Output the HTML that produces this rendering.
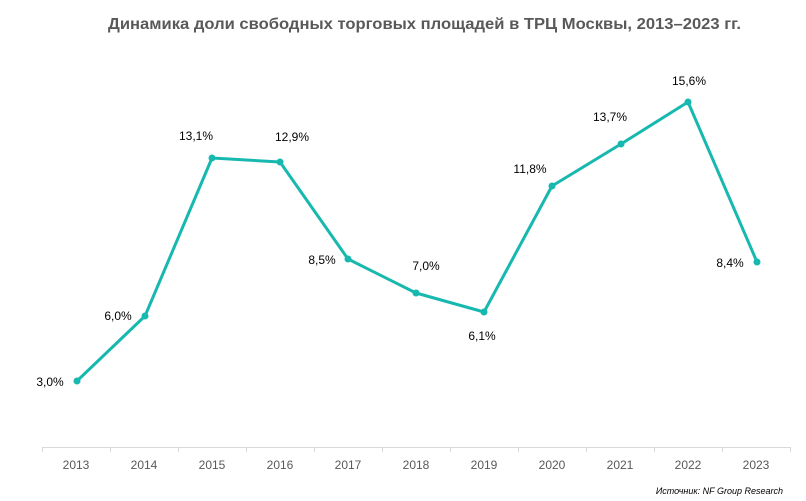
<!DOCTYPE html>
<html><head><meta charset="utf-8"><style>html,body{margin:0;padding:0;background:#fff}svg{display:block}</style></head>
<body>
<svg width="806" height="501" xmlns="http://www.w3.org/2000/svg" font-family="Liberation Sans, sans-serif">
<text x="108" y="29" font-size="16" font-weight="bold" fill="#595959" textLength="633" lengthAdjust="spacingAndGlyphs">Динамика доли свободных торговых площадей в ТРЦ Москвы, 2013–2023 гг.</text>
<g stroke="#d9d9d9" stroke-width="1">
<line x1="42" y1="447.5" x2="790" y2="447.5"/>
<line x1="42.5" y1="447" x2="42.5" y2="452"/><line x1="110.5" y1="447" x2="110.5" y2="452"/><line x1="178.5" y1="447" x2="178.5" y2="452"/><line x1="246.5" y1="447" x2="246.5" y2="452"/><line x1="314.5" y1="447" x2="314.5" y2="452"/><line x1="382.5" y1="447" x2="382.5" y2="452"/><line x1="450.5" y1="447" x2="450.5" y2="452"/><line x1="518.5" y1="447" x2="518.5" y2="452"/><line x1="586.5" y1="447" x2="586.5" y2="452"/><line x1="654.5" y1="447" x2="654.5" y2="452"/><line x1="722.5" y1="447" x2="722.5" y2="452"/><line x1="790.5" y1="447" x2="790.5" y2="452"/>
</g>
<g font-size="12" fill="#595959" text-anchor="middle">
<text x="76" y="469">2013</text><text x="144" y="469">2014</text><text x="212" y="469">2015</text><text x="280" y="469">2016</text><text x="348" y="469">2017</text><text x="416" y="469">2018</text><text x="484" y="469">2019</text><text x="552" y="469">2020</text><text x="620" y="469">2021</text><text x="688" y="469">2022</text><text x="756" y="469">2023</text>
</g>
<polyline fill="none" stroke="#17b8b0" stroke-width="3" stroke-linejoin="round" points="77,381 145,316 212,158 280,162 348,259 416,293 484,312 552,186 621,144 688,102 757,262"/>
<g fill="#17b8b0">
<circle cx="77" cy="381" r="3.5"/><circle cx="145" cy="316" r="3.5"/><circle cx="212" cy="158" r="3.5"/><circle cx="280" cy="162" r="3.5"/><circle cx="348" cy="259" r="3.5"/><circle cx="416" cy="293" r="3.5"/><circle cx="484" cy="312" r="3.5"/><circle cx="552" cy="186" r="3.5"/><circle cx="621" cy="144" r="3.5"/><circle cx="688" cy="102" r="3.5"/><circle cx="757" cy="262" r="3.5"/>
</g>
<g font-size="12" fill="#000" text-anchor="middle">
<text x="50" y="386">3,0%</text>
<text x="118" y="320">6,0%</text>
<text x="196" y="140">13,1%</text>
<text x="292" y="141">12,9%</text>
<text x="322" y="264">8,5%</text>
<text x="426" y="270">7,0%</text>
<text x="482" y="340">6,1%</text>
<text x="530" y="173">11,8%</text>
<text x="610" y="121">13,7%</text>
<text x="689" y="85">15,6%</text>
<text x="730" y="267">8,4%</text>
</g>
<text x="783" y="494" font-size="9" font-style="italic" fill="#000" text-anchor="end">Источник:  NF Group  Research</text>
</svg>
</body></html>
